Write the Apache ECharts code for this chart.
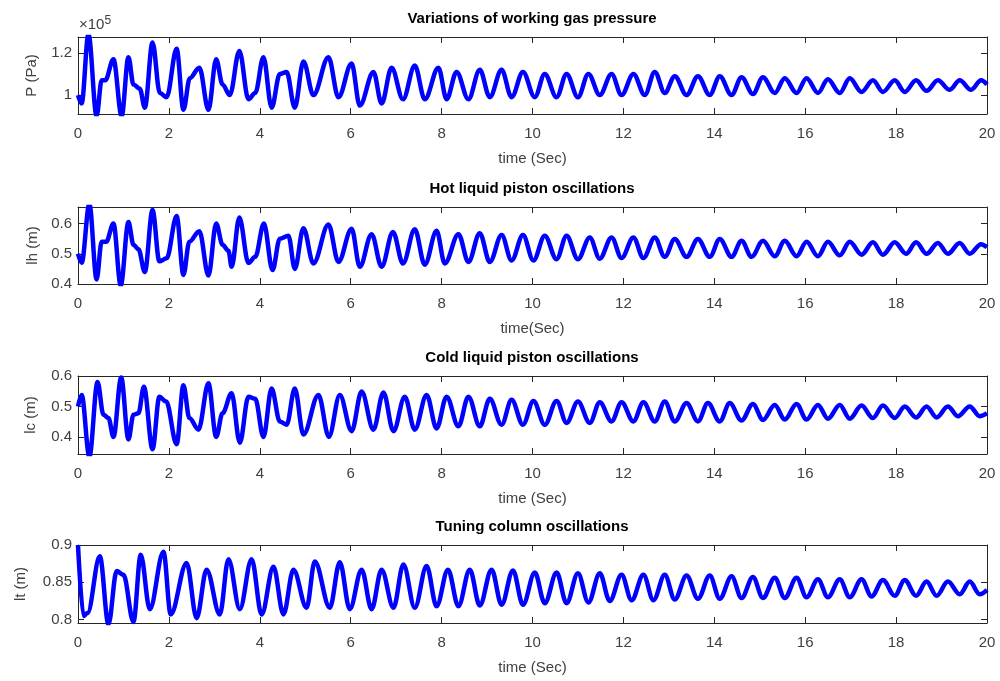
<!DOCTYPE html>
<html>
<head>
<meta charset="utf-8">
<script src="https://cdn.jsdelivr.net/npm/echarts@6/dist/echarts.min.js"></script>
<style>
  html, body { margin: 0; padding: 0; background: #fff; }
  #container { width: 1000px; height: 681px; }
</style>
</head>
<body>
<div id="container"></div>
<script type="text/javascript">
    // turning points of each trace (time in s)
    // pressure in units of 1e5 Pa
    var tP = [0, 0.08, 0.23, 0.41, 0.52, 0.6, 0.78, 0.96, 1.11, 1.22, 1.36, 1.47, 1.64, 1.8, 1.95, 2.17, 2.32, 2.46, 2.67, 2.87, 3.04, 3.18, 3.34, 3.55, 3.75, 3.9, 4.08, 4.26, 4.44, 4.59, 4.77, 4.96, 5.18, 5.51, 5.73, 6.02, 6.2, 6.5, 6.68, 6.9, 7.15, 7.41, 7.63, 7.93, 8.11, 8.33, 8.59, 8.84, 9.06, 9.32, 9.54, 9.79, 10.05, 10.27, 10.53, 10.75, 11.0, 11.23, 11.48, 11.74, 11.96, 12.22, 12.47, 12.69, 12.91, 13.13, 13.39, 13.64, 13.9, 14.12, 14.38, 14.6, 14.85, 15.07, 15.33, 15.55, 15.81, 16.03, 16.28, 16.5, 16.76, 16.98, 17.24, 17.49, 17.71, 17.97, 18.19, 18.44, 18.67, 18.92, 19.18, 19.4, 19.65, 19.87, 20.0];
    var pVal = [1.0, 0.96, 1.29, 0.9, 1.07, 1.07, 1.17, 0.9, 1.18, 1.05, 1.03, 0.94, 1.25, 1.01, 0.99, 1.22, 0.93, 1.08, 1.13, 0.93, 1.17, 1.05, 1.0, 1.21, 0.98, 1.01, 1.18, 0.94, 1.1, 1.11, 0.94, 1.16, 1.0, 1.18, 0.99, 1.15, 0.95, 1.11, 0.96, 1.13, 0.98, 1.14, 0.98, 1.13, 0.98, 1.11, 0.98, 1.12, 0.99, 1.12, 0.99, 1.11, 0.99, 1.1, 0.99, 1.1, 0.99, 1.1, 1.0, 1.1, 1.0, 1.1, 1.0, 1.11, 1.01, 1.09, 1.0, 1.09, 1.0, 1.09, 1.0, 1.085, 1.005, 1.085, 1.01, 1.08, 1.01, 1.08, 1.01, 1.075, 1.01, 1.08, 1.015, 1.07, 1.015, 1.07, 1.015, 1.07, 1.02, 1.07, 1.025, 1.07, 1.025, 1.07, 1.05];

    var tLh = [0, 0.08, 0.25, 0.41, 0.52, 0.62, 0.78, 0.94, 1.11, 1.22, 1.33, 1.47, 1.64, 1.79, 1.95, 2.17, 2.32, 2.45, 2.67, 2.87, 3.04, 3.18, 3.31, 3.38, 3.55, 3.75, 3.9, 4.09, 4.28, 4.44, 4.63, 4.77, 4.96, 5.18, 5.51, 5.73, 6.02, 6.2, 6.46, 6.68, 6.93, 7.15, 7.41, 7.63, 7.89, 8.07, 8.37, 8.59, 8.84, 9.06, 9.32, 9.54, 9.79, 10.02, 10.27, 10.53, 10.75, 11.0, 11.26, 11.48, 11.74, 11.96, 12.22, 12.44, 12.69, 12.91, 13.13, 13.39, 13.64, 13.9, 14.12, 14.38, 14.6, 14.82, 15.07, 15.33, 15.55, 15.81, 16.03, 16.28, 16.5, 16.76, 16.98, 17.24, 17.49, 17.71, 17.97, 18.22, 18.44, 18.67, 18.92, 19.14, 19.4, 19.62, 19.87, 20.0];
    var lhVal = [0.5, 0.47, 0.665, 0.415, 0.54, 0.54, 0.6, 0.395, 0.605, 0.53, 0.515, 0.44, 0.645, 0.475, 0.485, 0.625, 0.43, 0.54, 0.575, 0.428, 0.6, 0.53, 0.51, 0.457, 0.62, 0.47, 0.49, 0.6, 0.446, 0.55, 0.56, 0.45, 0.585, 0.468, 0.597, 0.473, 0.583, 0.457, 0.565, 0.457, 0.572, 0.468, 0.581, 0.464, 0.576, 0.468, 0.565, 0.473, 0.568, 0.473, 0.562, 0.478, 0.562, 0.478, 0.56, 0.482, 0.56, 0.482, 0.554, 0.484, 0.554, 0.486, 0.554, 0.486, 0.554, 0.49, 0.549, 0.49, 0.549, 0.49, 0.549, 0.49, 0.543, 0.49, 0.543, 0.492, 0.543, 0.492, 0.54, 0.492, 0.54, 0.495, 0.54, 0.497, 0.538, 0.497, 0.538, 0.5, 0.538, 0.5, 0.536, 0.5, 0.536, 0.5, 0.532, 0.522];

    var tLc = [0, 0.08, 0.25, 0.43, 0.56, 0.67, 0.78, 0.95, 1.11, 1.22, 1.33, 1.45, 1.64, 1.79, 1.94, 2.17, 2.32, 2.45, 2.65, 2.87, 3.04, 3.18, 3.38, 3.56, 3.75, 3.9, 4.08, 4.26, 4.44, 4.59, 4.77, 4.96, 5.29, 5.52, 5.76, 6.02, 6.24, 6.5, 6.72, 6.94, 7.19, 7.41, 7.67, 7.89, 8.11, 8.37, 8.59, 8.84, 9.06, 9.32, 9.54, 9.79, 10.02, 10.27, 10.53, 10.75, 11.0, 11.26, 11.48, 11.74, 11.96, 12.22, 12.44, 12.69, 12.91, 13.13, 13.39, 13.64, 13.86, 14.12, 14.34, 14.6, 14.85, 15.07, 15.33, 15.55, 15.81, 16.03, 16.28, 16.5, 16.76, 16.98, 17.24, 17.49, 17.71, 17.97, 18.19, 18.44, 18.67, 18.89, 19.14, 19.36, 19.62, 19.84, 20.0];
    var lcVal = [0.5, 0.538, 0.335, 0.58, 0.473, 0.462, 0.4, 0.595, 0.392, 0.473, 0.478, 0.565, 0.36, 0.532, 0.516, 0.376, 0.57, 0.462, 0.424, 0.576, 0.4, 0.478, 0.543, 0.381, 0.532, 0.525, 0.4, 0.559, 0.451, 0.44, 0.559, 0.408, 0.538, 0.4, 0.538, 0.419, 0.549, 0.424, 0.546, 0.419, 0.532, 0.424, 0.538, 0.428, 0.532, 0.435, 0.532, 0.435, 0.525, 0.44, 0.522, 0.44, 0.518, 0.44, 0.518, 0.446, 0.516, 0.446, 0.514, 0.451, 0.514, 0.451, 0.514, 0.451, 0.516, 0.451, 0.511, 0.451, 0.511, 0.451, 0.511, 0.454, 0.508, 0.456, 0.505, 0.457, 0.508, 0.457, 0.505, 0.46, 0.505, 0.46, 0.503, 0.462, 0.503, 0.462, 0.5, 0.464, 0.5, 0.464, 0.5, 0.468, 0.5, 0.468, 0.478];

    var tLt = [0, 0.12, 0.21, 0.48, 0.67, 0.85, 1.0, 1.22, 1.38, 1.58, 1.88, 2.04, 2.39, 2.61, 2.83, 3.12, 3.31, 3.56, 3.82, 4.04, 4.3, 4.52, 4.74, 5.03, 5.21, 5.54, 5.76, 5.98, 6.24, 6.46, 6.68, 6.94, 7.16, 7.41, 7.67, 7.89, 8.14, 8.37, 8.62, 8.84, 9.1, 9.32, 9.57, 9.79, 10.05, 10.27, 10.53, 10.75, 11.0, 11.23, 11.48, 11.7, 11.96, 12.18, 12.44, 12.66, 12.91, 13.13, 13.39, 13.64, 13.9, 14.12, 14.38, 14.6, 14.85, 15.07, 15.33, 15.55, 15.81, 16.03, 16.28, 16.5, 16.76, 16.98, 17.24, 17.46, 17.71, 17.97, 18.19, 18.44, 18.67, 18.89, 19.14, 19.4, 19.62, 19.84, 20.0];
    var ltVal = [0.9, 0.805, 0.809, 0.885, 0.794, 0.865, 0.86, 0.797, 0.887, 0.814, 0.891, 0.807, 0.876, 0.802, 0.867, 0.807, 0.881, 0.814, 0.881, 0.807, 0.871, 0.807, 0.867, 0.816, 0.878, 0.816, 0.877, 0.814, 0.867, 0.814, 0.867, 0.816, 0.874, 0.816, 0.872, 0.818, 0.867, 0.818, 0.867, 0.819, 0.867, 0.82, 0.866, 0.82, 0.863, 0.822, 0.863, 0.822, 0.862, 0.823, 0.862, 0.825, 0.86, 0.826, 0.86, 0.826, 0.86, 0.827, 0.859, 0.828, 0.859, 0.828, 0.858, 0.829, 0.857, 0.829, 0.856, 0.829, 0.856, 0.83, 0.854, 0.83, 0.854, 0.83, 0.854, 0.831, 0.853, 0.832, 0.853, 0.832, 0.851, 0.832, 0.851, 0.834, 0.851, 0.834, 0.84];

    var titles = ['Variations of working gas pressure', 'Hot liquid piston oscillations', 'Cold liquid piston oscillations', 'Tuning column oscillations'];
    var xNames = ['time (Sec)', 'time(Sec)', 'time (Sec)', 'time (Sec)'];
    var yNames = ['P (Pa)', 'lh (m)', 'lc (m)', 'lt (m)'];
    var xTicks = [0, 2, 4, 6, 8, 10, 12, 14, 16, 18, 20];
    var yTicks = [[1, 1.2], [0.4, 0.5, 0.6], [0.4, 0.5, 0.6], [0.8, 0.85, 0.9]];
    var yRange = [[0.91, 1.276], [0.4, 0.655], [0.344, 0.6], [0.7955, 0.9]];

    var dom = document.getElementById('container');
    var myChart = echarts.init(dom, null, {renderer: 'canvas'});

    var font = "'Liberation Sans', Arial, Helvetica, sans-serif";
    var axisCol = '#262626';
    var labelCol = '#404040';
    var gridTops = [37, 207, 376, 545];
    var gridH = [77, 77, 78, 78];
    var yGap = [39, 38, 40, 50];

    function pairs(t, v) {
        var out = [];
        for (var i = 0; i < t.length; i++) out.push([t[i], v[i]]);
        return out;
    }
    var seriesData = [pairs(tP, pVal), pairs(tLh, lhVal), pairs(tLc, lcVal), pairs(tLt, ltVal)];

    var grids = [], xAxes = [], yAxes = [], series = [], titleList = [];
    for (var k = 0; k < 4; k++) {
        grids.push({left: 78, right: 13, top: gridTops[k], height: gridH[k], containLabel: false, outerBoundsMode: 'none'});
        titleList.push({
            text: titles[k], left: 532, top: gridTops[k] - 26, textAlign: 'center', padding: 0,
            textStyle: {fontFamily: font, fontSize: 15, fontWeight: 'bold', color: '#000'}
        });
        // bottom axis with labels
        xAxes.push({
            type: 'value', gridIndex: k, position: 'bottom', min: 0, max: 20, interval: 2,
            name: xNames[k], nameLocation: 'middle', nameGap: 37,
            nameTextStyle: {fontFamily: font, fontSize: 15, color: labelCol},
            axisLine: {show: true, onZero: false, lineStyle: {color: axisCol, width: 1}},
            axisTick: {show: true, inside: true, length: 6, lineStyle: {color: axisCol}},
            axisLabel: {fontFamily: font, fontSize: 15, color: labelCol, margin: 12},
            splitLine: {show: false}
        });
        // top mirror
        xAxes.push({
            type: 'value', gridIndex: k, position: 'top', min: 0, max: 20, interval: 2,
            axisLine: {show: true, onZero: false, lineStyle: {color: axisCol, width: 1}},
            axisTick: {show: true, inside: true, length: 6, lineStyle: {color: axisCol}},
            axisLabel: {show: false}, splitLine: {show: false}
        });
        yAxes.push({
            type: 'value', gridIndex: k, position: 'left', min: yRange[k][0], max: yRange[k][1],
            name: yNames[k], nameLocation: 'middle', nameGap: yGap[k], nameRotate: 90,
            nameTextStyle: {fontFamily: font, fontSize: 15, color: labelCol},
            axisLine: {show: true, onZero: false, lineStyle: {color: axisCol, width: 1}},
            axisTick: {show: true, inside: true, length: 6, customValues: yTicks[k], lineStyle: {color: axisCol}},
            axisLabel: {fontFamily: font, fontSize: 15, color: labelCol, margin: 6, customValues: yTicks[k],
                formatter: function (v) { return String(+v.toFixed(3)); }},
            splitLine: {show: false}
        });
        yAxes.push({
            type: 'value', gridIndex: k, position: 'right', min: yRange[k][0], max: yRange[k][1],
            axisLine: {show: true, onZero: false, lineStyle: {color: axisCol, width: 1}},
            axisTick: {show: true, inside: true, length: 6, customValues: yTicks[k], lineStyle: {color: axisCol}},
            axisLabel: {show: false}, splitLine: {show: false}
        });
        series.push({
            type: 'line', xAxisIndex: 2 * k, yAxisIndex: 2 * k, data: seriesData[k],
            showSymbol: false, smooth: 0.35, smoothMonotone: 'x', clip: true,
            lineStyle: {color: '#0000ff', width: 4.5}, silent: true, animation: false
        });
    }

    var option = {
        backgroundColor: '#ffffff',
        animation: false,
        title: titleList,
        grid: grids,
        xAxis: xAxes,
        yAxis: yAxes,
        series: series,
        graphic: [{
            type: 'text', left: 79, top: 15,
            style: {
                text: '{a|\u00d710}{b|5}',
                rich: {
                    a: {fontFamily: font, fontSize: 15, fill: labelCol},
                    b: {fontFamily: font, fontSize: 12, fill: labelCol, verticalAlign: 'top', padding: [0, 0, 8, 0]}
                }
            }
        }]
    };

    myChart.setOption(option);
</script>
</body>
</html>
